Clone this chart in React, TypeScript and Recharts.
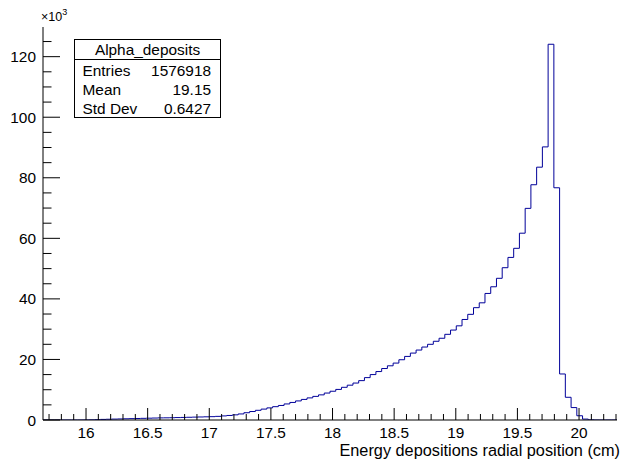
import { Line, LineChart, XAxis, YAxis } from "recharts";

// histogram: 100 equal bins, counts in thousands (axis shows x10^3)
const BIN_LOW = 15.651;
const BIN_HIGH = 20.308;
const COUNTS = [
  0, 0, 0, 0, 0, 0, 0, 0.02, 0.05, 0.1,
  0.2, 0.25, 0.3, 0.35, 0.4, 0.45, 0.5, 0.55, 0.6, 0.65,
  0.7, 0.72, 0.75, 0.8, 0.85, 0.9, 0.95, 1.0, 1.05, 1.1,
  1.2, 1.35, 1.5, 1.7, 2.0, 2.4, 2.8, 3.2, 3.6, 4.0,
  4.4, 4.8, 5.3, 5.8, 6.3, 6.8, 7.3, 7.8, 8.3, 8.9,
  9.5, 10.1, 10.8, 11.5, 12.2, 13.0, 14.0, 15.0, 16.0, 17.0,
  17.9, 18.8, 19.9, 21.0, 22.1, 23.1, 24.1, 25.0, 26.0, 27.0,
  28.3, 29.7, 31.1, 33.2, 34.9, 37.1, 38.7, 41.8, 44.0, 46.8,
  50.3, 53.7, 56.7, 61.7, 69.9, 77.7, 83.5, 90.2, 124.1, 76.7,
  15.2, 7.5, 4.1, 1.4, 0.3, 0.05, 0, 0, 0, 0,
];
const Y_MAX = 129.8;

const X_MAJOR = [16, 16.5, 17, 17.5, 18, 18.5, 19, 19.5, 20];
const Y_MAJOR = [0, 20, 40, 60, 80, 100, 120];

const STATS_TITLE = "Alpha_deposits";
const STATS_ROWS = [
  ["Entries", "1576918"],
  ["Mean", "19.15"],
  ["Std Dev", "0.6427"],
];
const X_TITLE = "Energy depositions radial position (cm)";

const FONT = "'Liberation Sans', Arial, Helvetica, sans-serif";
const FS = 15.4;

const binWidth = (BIN_HIGH - BIN_LOW) / COUNTS.length;
const data = COUNTS.map((c, i) => ({ x: BIN_LOW + i * binWidth, y: c }));
data.push({ x: BIN_HIGH, y: COUNTS[COUNTS.length - 1] });

// minor divisions: 0.1 on x, 5k on y
const xTicks: number[] = [];
for (let v = 15.7; v < BIN_HIGH; v += 0.1) xTicks.push(Math.round(v * 10) / 10);
const yTicks: number[] = [];
for (let v = 0; v < Y_MAX; v += 5) yTicks.push(v);

const isMajorX = (v: number) => X_MAJOR.some((m) => Math.abs(m - v) < 1e-6);
const isMajorY = (v: number) => Y_MAJOR.includes(v);

function XTick({ x, y, payload }: any) {
  const v = payload.value as number;
  const major = isMajorX(v);
  return (
    <g>
      <line x1={x} x2={x} y1={y} y2={y - (major ? 12 : 6)} stroke="#000" strokeWidth={1} />
      {major && (
        <text x={x} y={y + 17.5} textAnchor="middle" fontFamily={FONT} fontSize={FS} fill="#000">
          {String(v)}
        </text>
      )}
    </g>
  );
}

function YTick({ x, y, payload }: any) {
  const v = payload.value as number;
  const major = isMajorY(v);
  return (
    <g>
      <line x1={x} x2={x + (major ? 17 : 8.5)} y1={y} y2={y} stroke="#000" strokeWidth={1} />
      {major && (
        <text x={x - 7} y={y + 5.5} textAnchor="end" fontFamily={FONT} fontSize={FS} fill="#000">
          {String(v)}
        </text>
      )}
    </g>
  );
}

function StatsBox() {
  const left = 74.5;
  const top = 39.5;
  const w = 146;
  const h = 78;
  return (
    <g fontFamily={FONT} fontSize={FS} fill="#000">
      <rect x={left} y={top} width={w} height={h} fill="#fff" stroke="#000" strokeWidth={1} />
      <line x1={left} x2={left + w} y1={59.5} y2={59.5} stroke="#000" strokeWidth={1} />
      <text x={left + w / 2} y={54.5} textAnchor="middle">
        {STATS_TITLE}
      </text>
      {STATS_ROWS.map(([k, v], i) => (
        <g key={k}>
          <text x={82.5} y={75.5 + i * 19.3}>
            {k}
          </text>
          <text x={211} y={75.5 + i * 19.3} textAnchor="end">
            {v}
          </text>
        </g>
      ))}
    </g>
  );
}

export default function App() {
  return (
    <div style={{ position: "relative", width: 624, height: 462, background: "#fff" }}>
      <style>{"body{margin:0}"}</style>
      <LineChart width={624} height={462} data={data} margin={{ top: 27, right: 7, bottom: 0, left: 0 }}>
        <XAxis
          type="number"
          dataKey="x"
          domain={[BIN_LOW, BIN_HIGH]}
          allowDataOverflow
          ticks={xTicks}
          interval={0}
          tickSize={0}
          tickMargin={0}
          tickLine={false}
          tick={<XTick />}
          height={42}
          axisLine={{ stroke: "#000", strokeWidth: 1 }}
        />
        <YAxis
          type="number"
          domain={[0, Y_MAX]}
          allowDataOverflow
          ticks={yTicks}
          interval={0}
          tickSize={0}
          tickMargin={0}
          tickLine={false}
          tick={<YTick />}
          width={43}
          axisLine={{ stroke: "#000", strokeWidth: 1 }}
        />
        <Line
          type="stepAfter"
          dataKey="y"
          stroke="#000099"
          strokeWidth={1}
          dot={false}
          activeDot={false}
          isAnimationActive={false}
        />
      </LineChart>
      <svg width={624} height={462} style={{ position: "absolute", left: 0, top: 0, pointerEvents: "none" }}>
        <text x={41} y={21} fontFamily={FONT} fontSize={12.5} fill="#000">
          ×10
          <tspan dy={-6} fontSize={9}>
            3
          </tspan>
        </text>
        <StatsBox />
        <text x={620} y={456} textAnchor="end" fontFamily={FONT} fontSize={16.3} fill="#000">
          {X_TITLE}
        </text>
      </svg>
    </div>
  );
}
